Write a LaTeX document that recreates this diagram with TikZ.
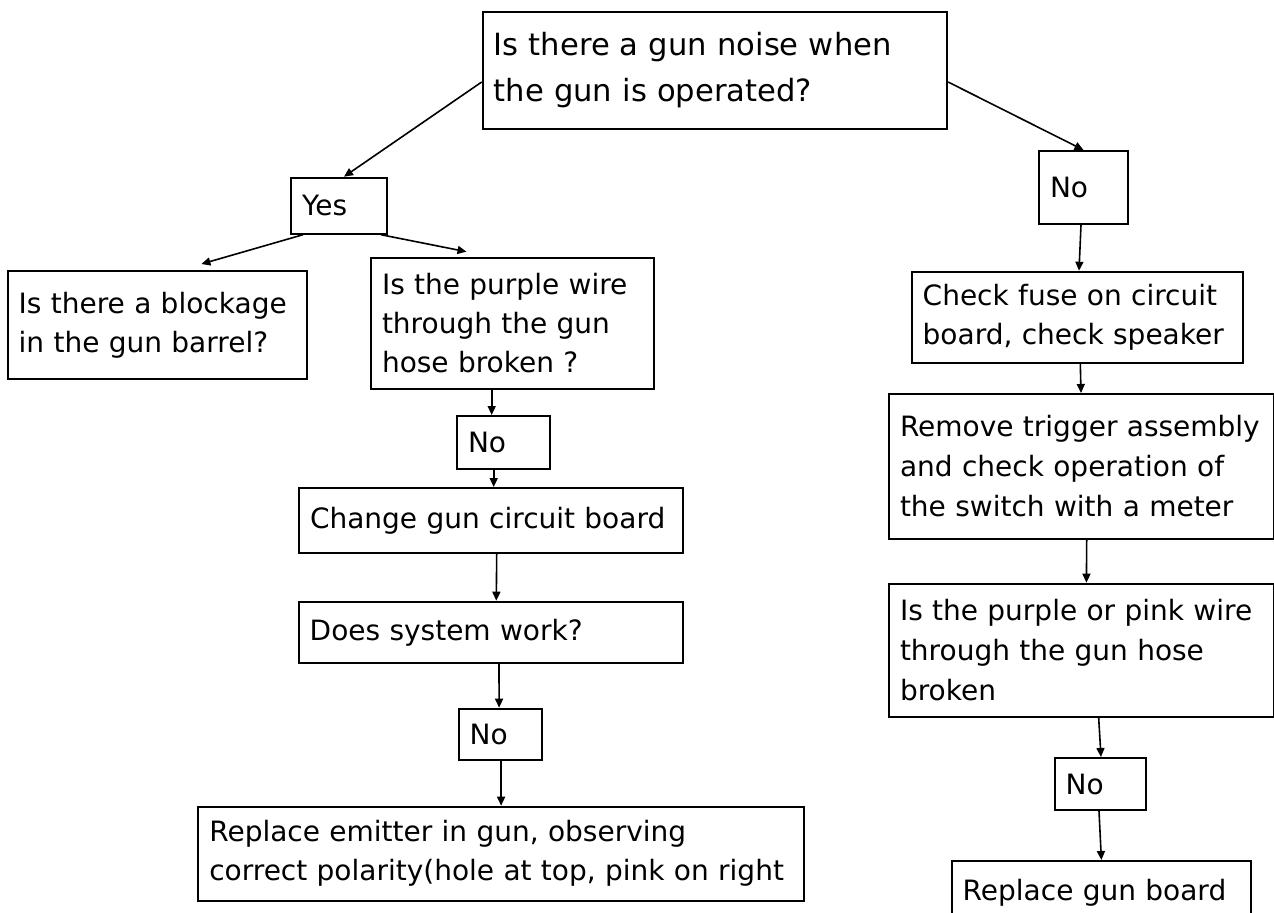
\documentclass[tikz,border=0pt]{standalone}
\usepackage{fontspec}
\setmainfont{DejaVu Sans}
\usetikzlibrary{arrows.meta}

\tikzset{
  box/.style={draw, line width=1pt, anchor=north west, inner xsep=5.5pt, inner ysep=0pt,
    align=left, font=\fontsize{14pt}{19.5pt}\selectfont},
  arr/.style={-{Triangle[length=4.5pt,width=4pt]}, line width=0.8pt},
}

\begin{document}
\begin{tikzpicture}[x=0.5pt,y=-0.5pt]
\useasboundingbox (0,0) rectangle (1274,912);
\node[box, minimum width=232.2pt, minimum height=58.7pt, text width=221.2pt,
  font=\fontsize{15.3pt}{23pt}\selectfont] (noise) at (481.7,10.7) {Is there a gun noise when\\the gun is operated?};
\node[box, minimum width=48pt, minimum height=28pt, text width=37pt] (yes) at (290,176.7) {Yes};
\node[box, minimum width=44.5pt, minimum height=36.5pt, text width=33.5pt] (no) at (1038,150) {No};
\node[box, minimum width=149.7pt, minimum height=54pt, text width=138.7pt] (blockage) at (6.7,270) {Is there a blockage\\in the gun barrel?};
\node[box, minimum width=141.5pt, minimum height=65.7pt, text width=130.5pt] (wire) at (370,256.7) {Is the purple wire\\through the gun\\hose broken ?};
\node[box, minimum width=46.5pt, minimum height=26.3pt, text width=35.5pt] (wireno) at (456,415) {No};
\node[box, minimum width=192pt, minimum height=32.5pt, text width=181pt] (change) at (298,487) {Change gun circuit board};
\node[box, minimum width=192.3pt, minimum height=30.7pt, text width=181.3pt] (works) at (297.7,600.7) {Does system work?};
\node[box, minimum width=41.7pt, minimum height=25.7pt, text width=30.7pt] (worksno) at (457.7,707.7) {No};
\node[box, minimum width=302.8pt, minimum height=46.9pt, text width=291.8pt] (emitter) at (197.3,805.7) {Replace emitter in gun, observing\\correct polarity(hole at top, pink on right};
\node[box, minimum width=165.5pt, minimum height=45.5pt, text width=154.5pt] (fuse) at (910.7,270.7) {Check fuse on circuit\\board, check speaker};
\node[box, minimum width=192.5pt, minimum height=72.3pt, text width=181.5pt,
  font=\fontsize{14pt}{20pt}\selectfont] (trigger) at (888,393) {Remove trigger assembly\\and check operation of\\the switch with a meter};
\node[box, minimum width=192.7pt, minimum height=66.7pt, text width=181.7pt,
  font=\fontsize{14pt}{20pt}\selectfont] (pink) at (888,582.7) {Is the purple or pink wire\\through the gun hose\\broken};
\node[box, minimum width=45.7pt, minimum height=26pt, text width=34.7pt] (pinkno) at (1053.7,757) {No};
\node[box, minimum width=149.7pt, minimum height=32pt, text width=138.7pt] (board) at (950.7,860) {Replace gun board};

\draw[arr] ([yshift=-5.8pt]noise.west) -- ([xshift=2.5pt]yes.north);
\draw[arr] ([yshift=-5.8pt]noise.east) -- (no.north);
\draw[arr] ([xshift=6.5pt]yes.south west) -- ([xshift=22pt,yshift=3pt]blockage.north);
\draw[arr] ([xshift=-3.5pt]yes.south east) -- ([xshift=-23pt,yshift=2.5pt]wire.north);
\draw[arr] ([xshift=-10.4pt]wire.south) -- ([xshift=-5.9pt]wireno.north);
\draw[arr] ([xshift=-4.9pt]wireno.south) -- ([xshift=1.35pt]change.north);
\draw[arr] ([xshift=2.85pt]change.south) -- ([xshift=2.65pt]works.north);
\draw[arr] ([xshift=4pt]works.south) -- ([xshift=-0.65pt]worksno.north);
\draw[arr] ([xshift=0.35pt]worksno.south) -- (emitter.north);
\draw[arr] ([xshift=-1.25pt]no.south) -- ([xshift=0.9pt]fuse.north);
\draw[arr] ([xshift=1.55pt]fuse.south) -- ([xshift=-0.25pt]trigger.north);
\draw[arr] ([xshift=2.6pt]trigger.south) -- ([xshift=2.35pt]pink.north);
\draw[arr] ([xshift=8.5pt]pink.south) -- ([xshift=0.3pt]pinkno.north);
\draw[arr] ([xshift=-0.7pt]pinkno.south) -- (board.north);
\end{tikzpicture}
\end{document}
